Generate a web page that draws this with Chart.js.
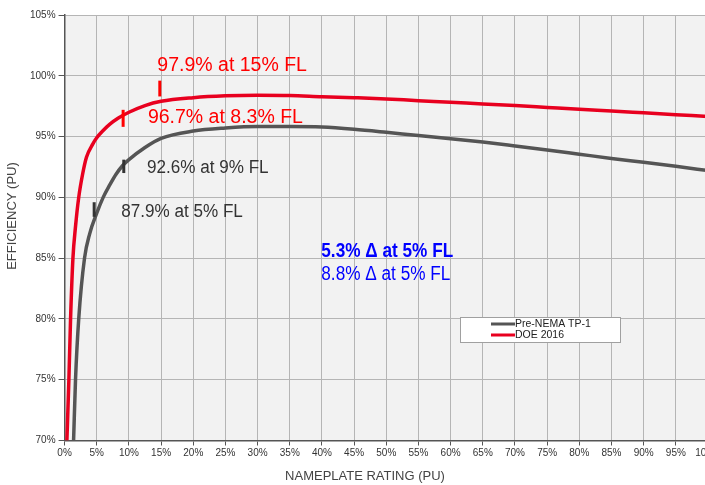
<!DOCTYPE html>
<html>
<head>
<meta charset="utf-8">
<script src="https://cdn.jsdelivr.net/npm/chart.js@4.4.0/dist/chart.umd.min.js"></script>
<style>
  html, body { margin: 0; padding: 0; overflow: hidden; background: #fff; }
  canvas { display: block; }
</style>
</head>
<body>
<canvas id="effChart" width="740" height="485"></canvas>
<script>
// load fraction (% of nameplate) vs efficiency (%)
const nemaX = [1.4, 1.7, 2.2, 3.1, 3.9, 5, 6, 7, 8, 9, 10, 12.5, 15, 20, 25, 30, 35, 40, 45, 50, 55, 60, 65, 70, 75, 80, 85, 90, 95, 100];
const nemaY = [70, 75, 80, 85, 87.0, 88.7, 90.0, 91.0, 91.9, 92.6, 93.1, 94.1, 94.85, 95.45, 95.7, 95.82, 95.82, 95.78, 95.6, 95.35, 95.08, 94.83, 94.55, 94.23, 93.9, 93.55, 93.2, 92.88, 92.55, 92.2];
const doeX = [0.36, 0.67, 0.93, 1.3, 1.7, 2.2, 2.8, 3.4, 4.4, 5, 6, 7, 8.3, 10, 12.5, 15, 20, 25, 30, 35, 40, 45, 50, 55, 60, 65, 70, 75, 80, 85, 90, 95, 100];
const doeY = [70, 75, 80, 85, 87.6, 90, 91.9, 93.3, 94.4, 94.9, 95.5, 96.0, 96.5, 97.0, 97.55, 97.9, 98.2, 98.35, 98.4, 98.38, 98.28, 98.2, 98.1, 97.95, 97.83, 97.67, 97.56, 97.4, 97.24, 97.1, 96.95, 96.8, 96.65];

const seriesNames = ["Pre-NEMA TP-1", "DOE 2016"];
const seriesColors = ["#555555", "#e8001f"];

// little "I" markers on the curves
const markX = [14.8, 9.1, 9.2, 4.6];
const markLo = [98.3, 95.8, 92.0, 88.4];
const markHi = [99.6, 97.2, 93.1, 89.6];
const markColor = ["#ff0000", "#ff0000", "#333333", "#333333"];

// text notes (left / baseline in data units)
const noteText = ["97.9% at 15% FL", "96.7% at 8.3% FL", "92.6% at 9% FL", "87.9% at 5% FL", "5.3% \u0394 at 5% FL", "8.8% \u0394 at 5% FL"];
const noteX = [14.42, 12.95, 12.8, 8.8, 39.9, 39.9];
const noteY = [100.36, 96.1, 91.98, 88.4, 85.1, 83.18];
const noteColor = ["#ff0000", "#ff0000", "#333333", "#333333", "#0000ff", "#0000ff"];
const noteFont = ["19.5px", "19.5px", "18px", "18px", "bold 20px", "20px"];
const noteSqueeze = [1, 1, 0.95, 0.95, 0.86, 0.86];

const xTickStep = 5;
const yTickStep = 5;

const FAM = '"Liberation Sans", Arial, sans-serif';

const toPts = (xs, ys) => xs.map((v, i) => ({ x: v, y: ys[i] }));

const decor = {
  id: 'decor',
  beforeDraw(chart) {
    const a = chart.chartArea, ctx = chart.ctx;
    ctx.save();
    ctx.fillStyle = '#f2f2f2';
    ctx.fillRect(a.left, a.top, a.right - a.left, a.bottom - a.top);
    ctx.restore();
  },
  afterDatasetsDraw(chart) {
    const xs = chart.scales.x, ys = chart.scales.y, ctx = chart.ctx;
    ctx.save();
    ctx.lineWidth = 3;
    markX.forEach((v, i) => {
      const px = xs.getPixelForValue(v);
      ctx.strokeStyle = markColor[i];
      ctx.beginPath();
      ctx.moveTo(px, ys.getPixelForValue(markLo[i]));
      ctx.lineTo(px, ys.getPixelForValue(markHi[i]));
      ctx.stroke();
    });

    ctx.textBaseline = 'alphabetic';
    ctx.textAlign = 'left';
    noteText.forEach((t, i) => {
      ctx.save();
      ctx.translate(xs.getPixelForValue(noteX[i]), ys.getPixelForValue(noteY[i]));
      ctx.scale(noteSqueeze[i], 1);
      ctx.font = noteFont[i] + ' ' + FAM;
      ctx.fillStyle = noteColor[i];
      ctx.fillText(t, 0, 0);
      ctx.restore();
    });

    // legend box
    ctx.fillStyle = '#ffffff';
    ctx.fillRect(460, 317, 160, 25);
    ctx.strokeStyle = '#a0a0a0';
    ctx.lineWidth = 1;
    ctx.strokeRect(460.5, 317.5, 160, 25);
    ctx.font = '10.5px ' + FAM;
    ctx.textBaseline = 'middle';
    chart.data.datasets.forEach((ds, i) => {
      const yy = 324 + i * 11;
      ctx.strokeStyle = ds.borderColor;
      ctx.lineWidth = 3;
      ctx.beginPath();
      ctx.moveTo(491, yy);
      ctx.lineTo(515, yy);
      ctx.stroke();
      ctx.fillStyle = '#222';
      ctx.fillText(ds.label, 515, yy + 0.5);
    });

    // axis titles
    ctx.fillStyle = '#444';
    ctx.font = '13px ' + FAM;
    ctx.textAlign = 'center';
    ctx.textBaseline = 'middle';
    ctx.fillText('NAMEPLATE RATING (PU)', 365, 476);
    ctx.translate(12, 216);
    ctx.rotate(-Math.PI / 2);
    ctx.fillText('EFFICIENCY (PU)', 0, 0);
    ctx.restore();
  }
};

const CHART = document.getElementById("effChart");
let effChart = new Chart(CHART, {
  type: 'line',
  data: {
    datasets: [
      {
        label: seriesNames[0],
        data: toPts(nemaX, nemaY),
        borderColor: seriesColors[0],
        borderWidth: 3.5,
        pointRadius: 0,
        fill: false,
        cubicInterpolationMode: 'monotone'
      },
      {
        label: seriesNames[1],
        data: toPts(doeX, doeY),
        borderColor: seriesColors[1],
        borderWidth: 3.5,
        pointRadius: 0,
        fill: false,
        cubicInterpolationMode: 'monotone'
      }
    ]
  },
  options: {
    responsive: false,
    animation: false,
    layout: { padding: { left: 27, right: 32, top: 15, bottom: 23.5 } },
    plugins: { legend: { display: false }, tooltip: { enabled: false } },
    scales: {
      x: {
        type: 'linear',
        min: 0,
        max: 100,
        ticks: {
          stepSize: xTickStep,
          autoSkip: false,
          maxRotation: 0,
          padding: 2,
          color: '#333',
          font: { family: FAM, size: 10 },
          callback: v => v + '%'
        },
        grid: { color: '#b5b5b5', lineWidth: 1, tickLength: 5, tickColor: '#555' },
        border: { color: '#555', width: 1.5 }
      },
      y: {
        min: 70,
        max: 105,
        ticks: {
          stepSize: yTickStep,
          padding: 3,
          color: '#333',
          font: { family: FAM, size: 10 },
          callback: v => v + '%'
        },
        grid: { color: '#b5b5b5', lineWidth: 1, tickLength: 6, tickColor: '#555' },
        border: { color: '#555', width: 1.5 }
      }
    }
  },
  plugins: [decor]
});
console.log(effChart.chartArea);
</script>
</body>
</html>
